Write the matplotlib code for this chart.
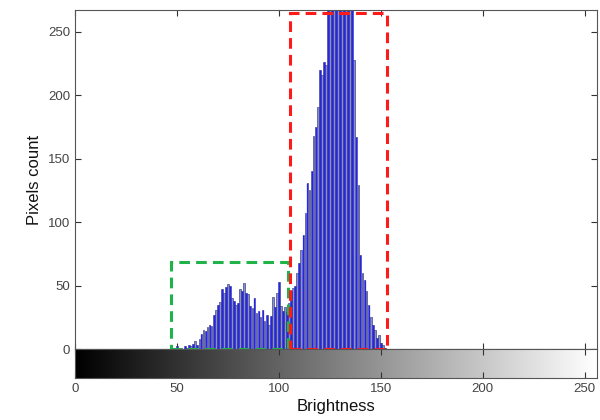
import numpy as np
import matplotlib
matplotlib.use('Agg')
import matplotlib.pyplot as plt
from matplotlib.patches import Rectangle

plt.rcParams['font.family'] = ['Liberation Sans', 'DejaVu Sans']

# Histogram of brightness levels (values above the axis top are clipped)
levels = np.arange(48, 153)
counts = [1, 0, 2, 0, 1, 0, 2, 1, 3, 2,
          4, 6, 3, 8, 12, 15, 14, 17, 19, 18,
          27, 31, 35, 37, 47, 44, 49, 51, 50, 40,
          38, 35, 36, 47, 46, 52, 44, 43, 34, 32,
          40, 28, 30, 25, 31, 22, 27, 19, 26, 41,
          33, 44, 53, 34, 30, 33, 29, 36, 46, 48,
          50, 60, 68, 78, 90, 107, 131, 125, 140, 168,
          175, 191, 220, 216, 226, 224, 275, 320, 380, 440,
          500, 560, 600, 580, 540, 480, 420, 360, 300, 228,
          167, 129, 74, 60, 54, 46, 35, 25, 19, 15,
          9, 11, 5, 3, 1]

# Highlight boxes: (x0, x1, height)
green_box = (47, 104.6, 68.5)
red_box = (105.2, 153.2, 265)

xticks = [0, 50, 100, 150, 200, 250]
yticks = [0, 50, 100, 150, 200, 250]
txt = '#444444'

fig = plt.figure(figsize=(6, 4.2), dpi=100)
ax = fig.add_axes([0.125, 0.169, 0.87, 0.807])
cax = fig.add_axes([0.125, 0.1, 0.87, 0.069])

ax.bar(levels, counts, width=0.85, color='#8890cc', edgecolor='#22227a', linewidth=0.4)
ax.vlines(levels[::2], 0, np.minimum(counts[::2], 267), color='#2222ff', linewidth=0.9)
ax.axhline(0, color='#777777', linewidth=0.8)

ax.add_patch(Rectangle((green_box[0], 0), green_box[1] - green_box[0], green_box[2],
                       fill=False, edgecolor='#1fb34a', linewidth=2.2, linestyle=(0, (3.5, 2)),
                       clip_on=False, zorder=5))
ax.add_patch(Rectangle((red_box[0], 0), red_box[1] - red_box[0], red_box[2],
                       fill=False, edgecolor='#ff1a1a', linewidth=2.2, linestyle=(0, (3.5, 2)),
                       clip_on=False, zorder=6))

ax.set_xlim(0, 256)
ax.set_ylim(0, 267)
ax.set_xticks(xticks)
ax.set_xticklabels([])
ax.set_yticks(yticks)
ax.tick_params(direction='in', top=True, right=True, length=4, labelsize=9.5, labelcolor=txt, color='#333333')
ax.set_ylabel('Pixels count', fontsize=12, color='#111111')
for s in ax.spines.values():
    s.set_color('#555555')

grad = np.linspace(0, 1, 256).reshape(1, -1)
cax.imshow(grad, cmap='gray', aspect='auto', extent=[0, 256, 0, 1])
cax.set_xlim(0, 256)
cax.set_yticks([])
cax.set_xticks(xticks)
cax.tick_params(direction='in', top=True, length=4, labelsize=9.5, labelcolor=txt, color='#333333')
cax.set_xlabel('Brightness', fontsize=12, color='#111111', labelpad=3)
for s in cax.spines.values():
    s.set_color('#555555')

fig.savefig('out.png', dpi=100)
